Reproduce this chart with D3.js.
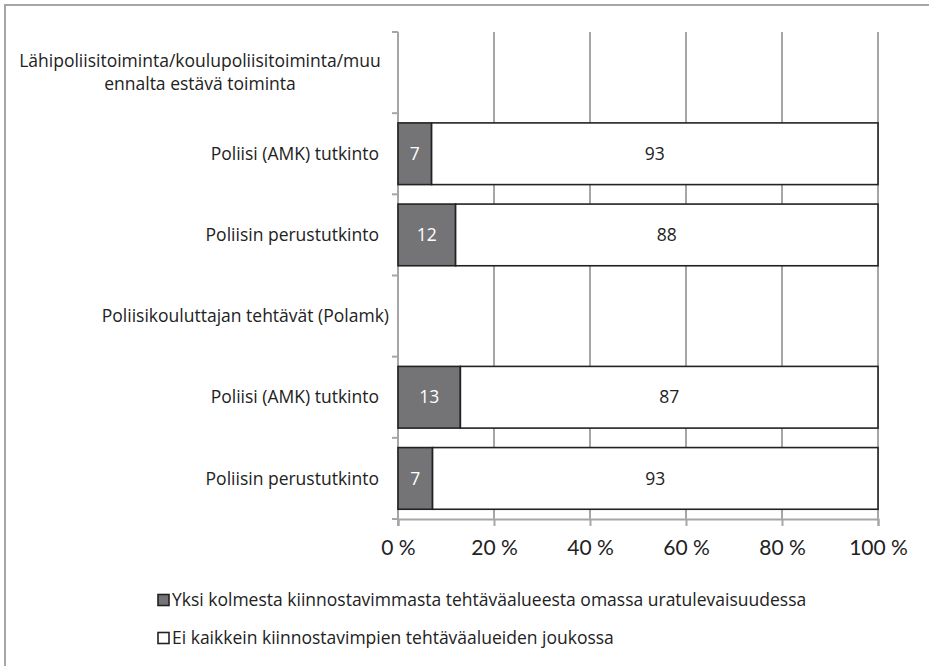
<!DOCTYPE html>
<html>
<head>
<meta charset="utf-8">
<script src="https://cdn.jsdelivr.net/npm/d3@7"></script>
<style>
  html, body { margin: 0; padding: 0; background: #fff; }
  svg { display: block; font-family: "Open Sans", Lato, sans-serif; }
</style>
</head>
<body>
<svg id="chart" width="929" height="666"></svg>
<script>
// ---- data ----
const categories = [
  "Lähipoliisitoiminta/koulupoliisitoiminta/muu\nennalta estävä toiminta",
  "Poliisi (AMK) tutkinto",
  "Poliisin perustutkinto",
  "Poliisikouluttajan tehtävät (Polamk)",
  "Poliisi (AMK) tutkinto ",
  "Poliisin perustutkinto "
];
const seriesNames = [
  "Yksi kolmesta kiinnostavimmasta tehtäväalueesta omassa uratulevaisuudessa",
  "Ei kaikkein kiinnostavimpien tehtäväalueiden joukossa"
];
const valuesTop3 = [null, 7, 12, null, 13, 7.2];
const valuesNot  = [null, 93, 88, null, 87, 92.8];
const labelsTop3 = [null, "7", "12", null, "13", "7"];
const labelsNot  = [null, "93", "88", null, "87", "93"];
const xTicks = [0, 20, 40, 60, 80, 100];
const xTickLabels = ["0 %", "20 %", "40 %", "60 %", "80 %", "100 %"];
const colors = ["#747477", "#ffffff"];

// ---- layout ----
const svg = d3.select("#chart");
const W = 929, H = 666;
const plot = { left: 398, right: 878, top: 32, bottom: 519 };
const FS = 17.5;

// outer frame (only top/left visible; rest cropped)
svg.append("rect").attr("x", 5).attr("y", 5).attr("width", W + 10).attr("height", H + 10)
  .attr("fill", "#fff").attr("stroke", "#a6a6a6").attr("stroke-width", 2);

const x = d3.scaleLinear().domain([0, 100]).range([plot.left, plot.right]);
const yRow = d3.scaleBand().domain(categories).range([plot.top, plot.bottom]).padding(0);
const yBar = d3.scaleBand().domain(categories).range([plot.top, plot.bottom])
  .paddingInner(0.24).paddingOuter(0.12);

// gridlines
svg.append("g").selectAll("line").data(xTicks.slice(1)).join("line")
  .attr("x1", d => x(d)).attr("x2", d => x(d))
  .attr("y1", plot.top).attr("y2", plot.bottom)
  .attr("stroke", "#a6a6a6").attr("stroke-width", 2);

// x axis
const xAxis = svg.append("g").attr("transform", `translate(0,${plot.bottom})`)
  .call(d3.axisBottom(x).tickValues(xTicks).tickFormat((d, i) => xTickLabels[i]).tickSize(7).tickPadding(14));
xAxis.select(".domain").attr("stroke", "#a6a6a6").attr("stroke-width", 2);
xAxis.selectAll(".tick line").attr("stroke", "#a6a6a6").attr("stroke-width", 2);
xAxis.selectAll(".tick text").attr("font-size", 21).attr("fill", "#222")
  .attr("font-family", "Lato, sans-serif");

// y axis line + ticks at band boundaries
const boundaries = categories.map(c => yRow(c)).concat([plot.bottom]);
svg.append("line").attr("x1", plot.left).attr("x2", plot.left)
  .attr("y1", plot.top).attr("y2", plot.bottom + 7)
  .attr("stroke", "#a6a6a6").attr("stroke-width", 2);
svg.append("g").selectAll("line").data(boundaries).join("line")
  .attr("x1", plot.left - 6).attr("x2", plot.left)
  .attr("y1", d => d).attr("y2", d => d)
  .attr("stroke", "#a6a6a6").attr("stroke-width", 2);

// category labels
const catG = svg.append("g");
categories.forEach((c, k) => {
  const lines = c.trim().split("\n");
  const cy = yRow(c) + yRow.bandwidth() / 2;
  const lh = 22.5;
  const multi = lines.length > 1;
  const ax = multi ? 200 : (k === 3 ? 389 : 379);
  const t = catG.append("text").attr("text-anchor", multi ? "middle" : "end")
    .attr("font-size", FS).attr("fill", "#222");
  lines.forEach((ln, i) => {
    t.append("tspan").attr("x", ax)
      .attr("y", cy + (i - (lines.length - 1) / 2) * lh)
      .attr("dy", "0.35em").text(ln);
  });
});

// bars
const rows = categories.map((c, i) => ({ c, a: valuesTop3[i], b: valuesNot[i], la: labelsTop3[i], lb: labelsNot[i] }))
  .filter(d => d.a != null);
const barG = svg.append("g");
rows.forEach(d => {
  const y0 = yBar(d.c), h = yBar.bandwidth();
  barG.append("rect").attr("x", x(0)).attr("y", y0).attr("width", x(d.a) - x(0)).attr("height", h)
    .attr("fill", colors[0]).attr("stroke", "#222").attr("stroke-width", 1.6);
  barG.append("rect").attr("x", x(d.a)).attr("y", y0).attr("width", x(d.a + d.b) - x(d.a)).attr("height", h)
    .attr("fill", colors[1]).attr("stroke", "#222").attr("stroke-width", 1.6);
  barG.append("text").attr("x", (x(0) + x(d.a)) / 2).attr("y", y0 + h / 2).attr("dy", "0.35em")
    .attr("text-anchor", "middle").attr("font-size", FS).attr("fill", "#fff").text(d.la);
  barG.append("text").attr("x", (x(d.a) + x(d.a + d.b)) / 2).attr("y", y0 + h / 2).attr("dy", "0.35em")
    .attr("text-anchor", "middle").attr("font-size", FS).attr("fill", "#222").text(d.lb);
});

// legend
const legY = [600, 638];
const lg = svg.append("g");
seriesNames.forEach((s, i) => {
  lg.append("rect").attr("x", 158).attr("y", legY[i] - 5.5).attr("width", 11).attr("height", 11)
    .attr("fill", colors[i]).attr("stroke", "#222").attr("stroke-width", 1.6);
  lg.append("text").attr("x", 172).attr("y", legY[i]).attr("dy", "0.35em")
    .attr("font-size", FS).attr("fill", "#222").text(s);
});
</script>
</body>
</html>
